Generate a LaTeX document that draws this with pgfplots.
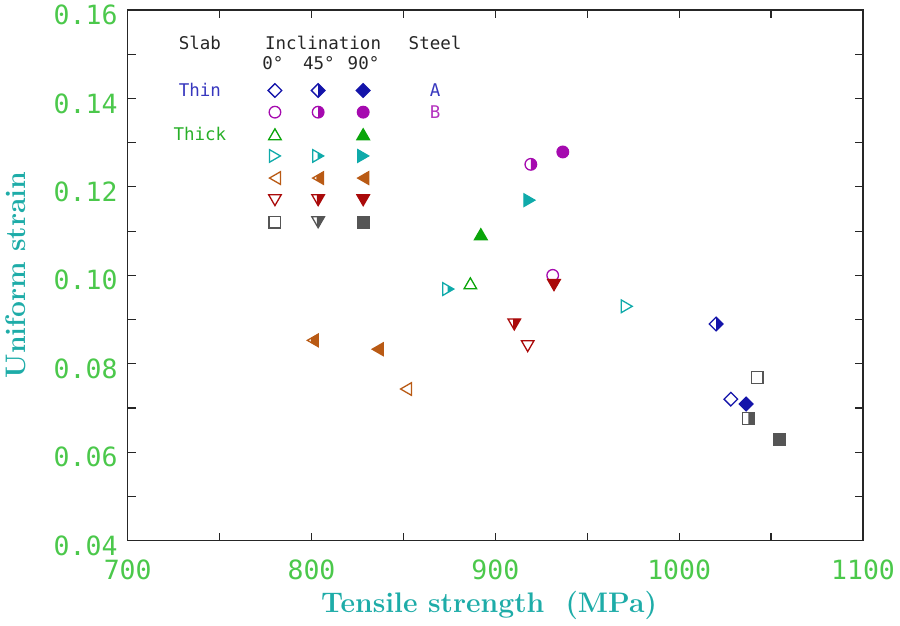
\documentclass[border=0pt]{standalone}
\usepackage{fontspec}
\usepackage{pgfplots}
\pgfplotsset{compat=1.18}
\newfontfamily\monofont{DejaVu Sans Mono}
\definecolor{tickgreen}{RGB}{75,200,75}
\definecolor{labteal}{RGB}{30,172,168}
\definecolor{cA}{RGB}{20,20,170}
\definecolor{cB}{RGB}{165,10,175}
\definecolor{cG}{RGB}{10,165,10}
\definecolor{cC}{RGB}{15,170,170}
\definecolor{cO}{RGB}{185,90,20}
\definecolor{cR}{RGB}{170,10,10}
\definecolor{cK}{RGB}{85,85,85}
\definecolor{tThin}{RGB}{55,55,190}
\definecolor{tThick}{RGB}{40,175,40}
\definecolor{tB}{RGB}{180,50,190}

% shape paths
\newcommand\pathDia{\pgfpathmoveto{\pgfqpoint{0pt}{\pgfplotmarksize}}\pgfpathlineto{\pgfqpoint{\pgfplotmarksize}{0pt}}\pgfpathlineto{\pgfqpoint{0pt}{-\pgfplotmarksize}}\pgfpathlineto{\pgfqpoint{-\pgfplotmarksize}{0pt}}\pgfpathclose}
\newcommand\pathCirc{\pgfpathcircle{\pgfpointorigin}{\pgfplotmarksize}}
\newcommand\pathSq{\pgfpathrectangle{\pgfqpoint{-\pgfplotmarksize}{-\pgfplotmarksize}}{\pgfqpoint{2\pgfplotmarksize}{2\pgfplotmarksize}}}
\newcommand\pathTU{\pgfpathmoveto{\pgfqpoint{0pt}{.866\pgfplotmarksize}}\pgfpathlineto{\pgfqpoint{\pgfplotmarksize}{-.866\pgfplotmarksize}}\pgfpathlineto{\pgfqpoint{-\pgfplotmarksize}{-.866\pgfplotmarksize}}\pgfpathclose}
\newcommand\pathTD{\pgfpathmoveto{\pgfqpoint{0pt}{-.866\pgfplotmarksize}}\pgfpathlineto{\pgfqpoint{\pgfplotmarksize}{.866\pgfplotmarksize}}\pgfpathlineto{\pgfqpoint{-\pgfplotmarksize}{.866\pgfplotmarksize}}\pgfpathclose}
\newcommand\pathTR{\pgfpathmoveto{\pgfqpoint{.866\pgfplotmarksize}{0pt}}\pgfpathlineto{\pgfqpoint{-.866\pgfplotmarksize}{\pgfplotmarksize}}\pgfpathlineto{\pgfqpoint{-.866\pgfplotmarksize}{-\pgfplotmarksize}}\pgfpathclose}
\newcommand\pathTL{\pgfpathmoveto{\pgfqpoint{-.866\pgfplotmarksize}{0pt}}\pgfpathlineto{\pgfqpoint{.866\pgfplotmarksize}{\pgfplotmarksize}}\pgfpathlineto{\pgfqpoint{.866\pgfplotmarksize}{-\pgfplotmarksize}}\pgfpathclose}

% full marks (fill colour decides open / filled)
\pgfdeclareplotmark{Dia}{\pathDia\pgfusepathqfillstroke}
\pgfdeclareplotmark{Circ}{\pathCirc\pgfusepathqfillstroke}
\pgfdeclareplotmark{Sq}{\pathSq\pgfusepathqfillstroke}
\pgfdeclareplotmark{TU}{\pathTU\pgfusepathqfillstroke}
\pgfdeclareplotmark{TD}{\pathTD\pgfusepathqfillstroke}
\pgfdeclareplotmark{TR}{\pathTR\pgfusepathqfillstroke}
\pgfdeclareplotmark{TL}{\pathTL\pgfusepathqfillstroke}

% half-filled marks: #1 path, #2 split factor
\newcommand\halfmark[2]{%
  \begin{pgfscope}\pgfsetfillcolor{white}#1\pgfusepathqfill\end{pgfscope}%
  \begin{pgfscope}%
    \pgfpathrectangle{\pgfqpoint{#2\pgfplotmarksize}{-2\pgfplotmarksize}}{\pgfqpoint{4\pgfplotmarksize}{4\pgfplotmarksize}}%
    \pgfusepath{clip}#1\pgfusepathqfill
  \end{pgfscope}%
  #1\pgfusepathqstroke}
\pgfdeclareplotmark{DiaH}{\halfmark{\pathDia}{0}}
\pgfdeclareplotmark{CircH}{\halfmark{\pathCirc}{0}}
\pgfdeclareplotmark{SqH}{\halfmark{\pathSq}{0}}
\pgfdeclareplotmark{TRH}{\halfmark{\pathTR}{-0.1}}
\pgfdeclareplotmark{TLH}{\halfmark{\pathTL}{-0.29}}
\pgfdeclareplotmark{TDH}{\halfmark{\pathTD}{-0.2}}

\pgfplotsset{
  pt/.style n args={3}{only marks, color=#1, mark=#2,
    mark options={solid, line width=1.3pt, draw=#1, fill=#3}},
}

\begin{document}
\begin{tikzpicture}
\begin{axis}[
  at={(127.7pt,84.3pt)}, anchor=south west,
  scale only axis, width=735.3pt, height=530.7pt,
  xmin=700, xmax=1100, ymin=0.04, ymax=0.16,
  xtick={700,800,900,1000,1100},
  minor xtick={750,850,950,1050},
  ytick={0.04,0.06,0.08,0.10,0.12,0.14,0.16},
  minor ytick={0.05,0.07,0.09,0.11,0.13,0.15},
  tick align=inside,
  major tick length=8pt, minor tick length=8pt,
  every tick/.style={black!85, line width=1.2pt},
  axis line style={black!85, line width=1.3pt},
  /pgf/number format/assume math mode=true,
  tick label style={font=\monofont\fontsize{26.5}{26.5}\selectfont, text=tickgreen, inner sep=0pt},
  xticklabel style={/pgf/number format/1000 sep={}, anchor=north, yshift=-19pt},
  yticklabel style={/pgf/number format/fixed, /pgf/number format/fixed zerofill,
    /pgf/number format/precision=2, anchor=east, xshift=-10pt, yshift=-5pt},
  xlabel={Tensile strength\ \ (MPa)},
  ylabel={Uniform strain},
  xlabel style={at={(axis description cs:0.4914,-0.1362)}, anchor=base,
    font=\fontsize{28.3}{28.3}\selectfont\bfseries, text=labteal, inner sep=0pt},
  ylabel style={at={(axis description cs:-0.139,0.5007)}, anchor=base, rotate=0,
    font=\fontsize{28.3}{28.3}\selectfont\bfseries, text=labteal, inner sep=0pt},
  clip=false,
]
% ---------------- data ----------------
% Steel A, thin slab (diamonds): 0, 45, 90 deg
\addplot[pt={cA}{Dia}{white}, mark size=6.8] coordinates {(1028.1,0.0720)};
\addplot[pt={cA}{DiaH}{cA}, mark size=6.8] coordinates {(1020.1,0.0890)};
\addplot[pt={cA}{Dia}{cA}, mark size=6.8] coordinates {(1036.4,0.0709)};
% Steel B, thin slab (circles)
\addplot[pt={cB}{Circ}{white}, mark size=5.8] coordinates {(931.2,0.1000)};
\addplot[pt={cB}{CircH}{cB}, mark size=5.8] coordinates {(919.3,0.1251)};
\addplot[pt={cB}{Circ}{cB}, mark size=5.8] coordinates {(936.7,0.1279)};
% Thick slabs
\addplot[pt={cG}{TU}{white}, mark size=6.3] coordinates {(886.4,0.0982)};
\addplot[pt={cG}{TU}{cG}, mark size=6.3] coordinates {(892.1,0.1093)};
\addplot[pt={cC}{TR}{white}, mark size=6.3] coordinates {(971.5,0.0930)};
\addplot[pt={cC}{TRH}{cC}, mark size=6.3] coordinates {(874.4,0.0969)};
\addplot[pt={cC}{TR}{cC}, mark size=6.3] coordinates {(918.5,0.1170)};
\addplot[pt={cO}{TL}{white}, mark size=6.3] coordinates {(851.4,0.0743)};
\addplot[pt={cO}{TLH}{cO}, mark size=6.3] coordinates {(800.7,0.0853)};
\addplot[pt={cO}{TL}{cO}, mark size=6.3] coordinates {(836.0,0.0833)};
\addplot[pt={cR}{TD}{white}, mark size=6.3] coordinates {(917.6,0.0840)};
\addplot[pt={cR}{TDH}{cR}, mark size=6.3] coordinates {(910.3,0.0889)};
\addplot[pt={cR}{TD}{cR}, mark size=6.3] coordinates {(931.9,0.0978)};
\addplot[pt={cK}{Sq}{white}, mark size=5.8] coordinates {(1042.5,0.0769)};
\addplot[pt={cK}{SqH}{cK}, mark size=5.8] coordinates {(1037.6,0.0676)};
\addplot[pt={cK}{Sq}{cK}, mark size=5.8] coordinates {(1054.5,0.0629)};
% ---------------- key ----------------
\addplot[pt={cA}{Dia}{white}, mark size=6.8] coordinates {(780.1,0.1418)};
\addplot[pt={cA}{DiaH}{cA}, mark size=6.8] coordinates {(803.6,0.1418)};
\addplot[pt={cA}{Dia}{cA}, mark size=6.8] coordinates {(828.1,0.1418)};
\addplot[pt={cB}{Circ}{white}, mark size=5.8] coordinates {(780.1,0.1369)};
\addplot[pt={cB}{CircH}{cB}, mark size=5.8] coordinates {(803.6,0.1369)};
\addplot[pt={cB}{Circ}{cB}, mark size=5.8] coordinates {(828.1,0.1369)};
\addplot[pt={cG}{TU}{white}, mark size=6.3] coordinates {(780.1,0.1319)};
\addplot[pt={cG}{TU}{cG}, mark size=6.3] coordinates {(828.1,0.1319)};
\addplot[pt={cC}{TR}{white}, mark size=6.3] coordinates {(780.1,0.1270)};
\addplot[pt={cC}{TRH}{cC}, mark size=6.3] coordinates {(803.6,0.1270)};
\addplot[pt={cC}{TR}{cC}, mark size=6.3] coordinates {(828.1,0.1270)};
\addplot[pt={cO}{TL}{white}, mark size=6.3] coordinates {(780.1,0.1220)};
\addplot[pt={cO}{TLH}{cO}, mark size=6.3] coordinates {(803.6,0.1220)};
\addplot[pt={cO}{TL}{cO}, mark size=6.3] coordinates {(828.1,0.1220)};
\addplot[pt={cR}{TD}{white}, mark size=6.3] coordinates {(780.1,0.1170)};
\addplot[pt={cR}{TDH}{cR}, mark size=6.3] coordinates {(803.6,0.1170)};
\addplot[pt={cR}{TD}{cR}, mark size=6.3] coordinates {(828.1,0.1170)};
\addplot[pt={cK}{Sq}{white}, mark size=5.8] coordinates {(780.1,0.1120)};
\addplot[pt={cK}{TDH}{cK}, mark size=6.3] coordinates {(803.6,0.1120)};
\addplot[pt={cK}{Sq}{cK}, mark size=5.8] coordinates {(828.1,0.1120)};
% key text
\begin{scope}[every node/.style={font=\monofont\fontsize{17.5}{17.5}\selectfont, inner sep=0pt}]
\node[text=black!85] at (axis cs:739.3,0.1525) {Slab};
\node[text=black!85] at (axis cs:806.3,0.1525) {Inclination};
\node[text=black!85] at (axis cs:867.2,0.1525) {Steel};
\node[text=black!85] at (axis cs:779.0,0.1480) {0°};
\node[text=black!85] at (axis cs:804.0,0.1480) {45°};
\node[text=black!85] at (axis cs:828.3,0.1480) {90°};
\node[text=tThin] at (axis cs:739.3,0.1419) {Thin};
\node[text=tThick] at (axis cs:739.3,0.1319) {Thick};
\node[text=tThin] at (axis cs:867.2,0.1419) {A};
\node[text=tB] at (axis cs:867.2,0.1369) {B};
\end{scope}
\end{axis}
\pgfresetboundingbox
\path[use as bounding box] (0,0) rectangle (900pt,625pt);
\end{tikzpicture}
\end{document}
